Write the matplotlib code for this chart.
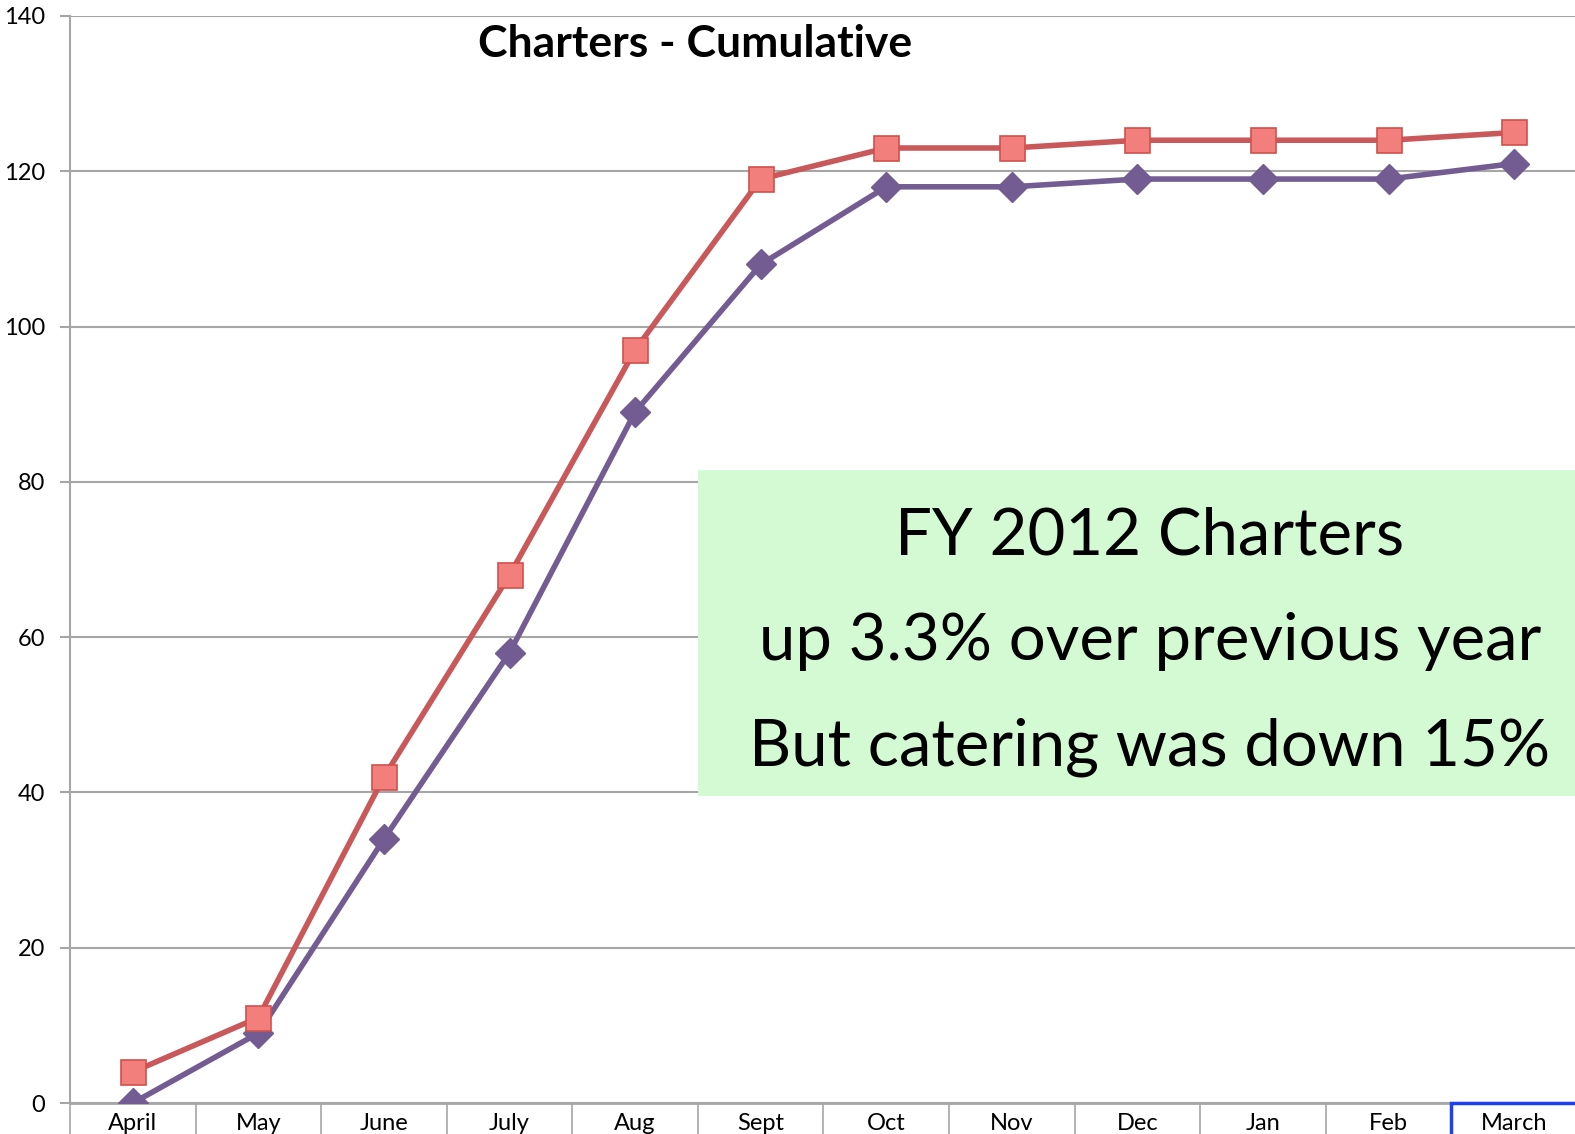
import matplotlib.pyplot as plt
import matplotlib.transforms as mtransforms
from matplotlib.patches import Rectangle
import numpy as np

# month labels and cumulative charter counts
months = ["April", "May", "June", "July", "Aug", "Sept",
          "Oct", "Nov", "Dec", "Jan", "Feb", "March"]
fy2012 = [4, 11, 42, 68, 97, 119, 123, 123, 124, 124, 124, 125]
fy2011 = [0, 9, 34, 58, 89, 108, 118, 118, 119, 119, 119, 121]
y_ticks = [0, 20, 40, 60, 80, 100, 120, 140]

plt.rcParams['font.family'] = ['Lato', 'DejaVu Sans']

fig = plt.figure(figsize=(15.75, 11.34), dpi=100)
# plot area runs a little past the right edge of the picture
ax = fig.add_axes([70 / 1575, 31 / 1134, 1507 / 1575, 1087 / 1134])

x = np.arange(len(months))

# gridlines first so the lines sit on top
ax.set_axisbelow(True)
ax.yaxis.grid(True, color="#a6a6a6", linewidth=1.5)

ax.plot(x, fy2011, color="#725c92", linewidth=4, marker="D",
        markersize=15, markerfacecolor="#725c92", markeredgecolor="#725c92",
        zorder=3)
ax.plot(x, fy2012, color="#c9585a", linewidth=4, marker="s",
        markersize=18, markerfacecolor="#f27f7c", markeredgecolor="#d2504e",
        markeredgewidth=1.2, zorder=4)

ax.set_xlim(-0.5, len(months) - 0.5)
ax.set_ylim(0, 140)
ax.set_yticks(y_ticks)
ax.tick_params(axis="y", labelsize=17, length=7, width=1.5,
               color="#a6a6a6", pad=11)

# category labels centred, separators at category boundaries
ax.set_xticks(x)
ax.set_xticklabels(months, fontsize=17)
ax.tick_params(axis="x", which="major", length=0, pad=7)
ax.set_xticks(np.arange(len(months) + 1) - 0.5, minor=True)
ax.tick_params(axis="x", which="minor", length=40, width=1.2,
               color="#a6a6a6")

for side in ["top", "right"]:
    ax.spines[side].set_visible(False)
ax.spines["left"].set_color("#a6a6a6")
ax.spines["left"].set_linewidth(1.5)
ax.spines["bottom"].set_color("#a6a6a6")
ax.spines["bottom"].set_linewidth(2)

ax.set_title("Charters - Cumulative", fontsize=32, fontweight="bold",
             x=0.415, y=0.955)

# green note box
ax.add_patch(Rectangle((4.5, 39.5), 7.2, 42, transform=ax.transData,
                       facecolor="#d4fad4", edgecolor="none", zorder=5))
note = ["FY 2012 Charters",
        "up 3.3% over previous year",
        "But catering was down 15%"]
for i, line in enumerate(note):
    ax.text(8.1, 73.0 - i * 13.6, line, fontsize=47, ha="center",
            va="center", zorder=6, color="black")

# blue selection frame around March label
trans = mtransforms.blended_transform_factory(ax.transData, ax.transAxes)
ax.add_patch(Rectangle((10.5, -0.1), 1.2, 0.1, transform=trans,
                       facecolor="none", edgecolor="#1f3ff0",
                       linewidth=2.5, clip_on=False, zorder=6))

plt.savefig("out.png", dpi=100)
